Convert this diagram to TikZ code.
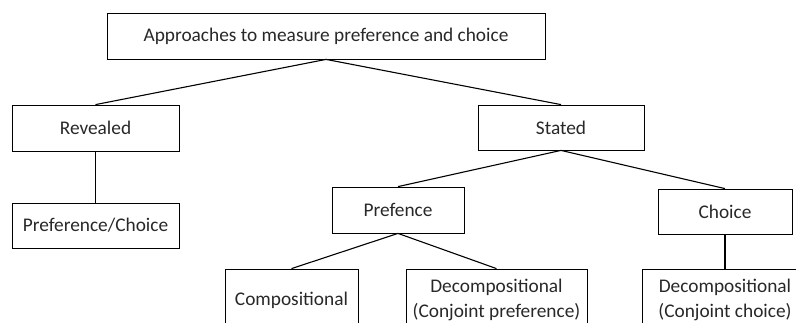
\documentclass[tikz,border=0pt]{standalone}
\usepackage{fontspec}
\setmainfont{Carlito}
\usepackage{tikz}
\definecolor{T}{RGB}{40, 40, 40}
\tikzset{
  caja/.style={draw, rectangle, line width=0.8bp, inner sep=0pt, align=center,
    text=T, font=\fontsize{19.4}{24.5}\selectfont},
  rama/.style={line width=1.1bp}
}

\begin{document}
\begin{tikzpicture}[x=1bp, y=-1bp]
  \useasboundingbox (0,0) rectangle (796,322);
  \clip (0,0) rectangle (796,322);

  % Raiz
  \node[caja, minimum width=438bp, minimum height=46bp] (raiz) at (326,36) {Approaches to measure preference and choice};

  % Primer nivel
  \node[caja, minimum width=167bp, minimum height=46bp] (rev) at (95.5,128) {Revealed};
  \node[caja, minimum width=166bp, minimum height=45bp] (stated) at (561,127.5) {Stated};

  % Segundo nivel
  \node[caja, minimum width=167bp, minimum height=45bp] (prefch) at (95.5,225.5) {Preference/Choice};
  \node[caja, minimum width=132bp, minimum height=46bp] (pref) at (398,210) {Prefence};
  \node[caja, minimum width=134bp, minimum height=45bp] (choice) at (725,211.5) {Choice};

  % Tercer nivel (cortado abajo)
  \node[caja, minimum width=133bp, minimum height=62bp] (comp) at (291.5,300) {Compositional};
  \node[caja, minimum width=181bp, minimum height=62bp] (decpref) at (496.5,300) {Decompositional\\(Conjoint preference)};
  \node[caja, minimum width=166bp, minimum height=62bp] (decch) at (725,300) {Decompositional\\(Conjoint choice)};

  % Ramas
  \draw[rama] (raiz.south) -- (rev.north);
  \draw[rama] (raiz.south) -- (stated.north);
  \draw[rama] (rev.south) -- (prefch.north);
  \draw[rama] (stated.south) -- (pref.north);
  \draw[rama] (stated.south) -- (choice.north);
  \draw[rama] (pref.south) -- (comp.north);
  \draw[rama] (pref.south) -- (decpref.north);
  \draw[rama] (choice.south) -- (decch.north);
\end{tikzpicture}
\end{document}
